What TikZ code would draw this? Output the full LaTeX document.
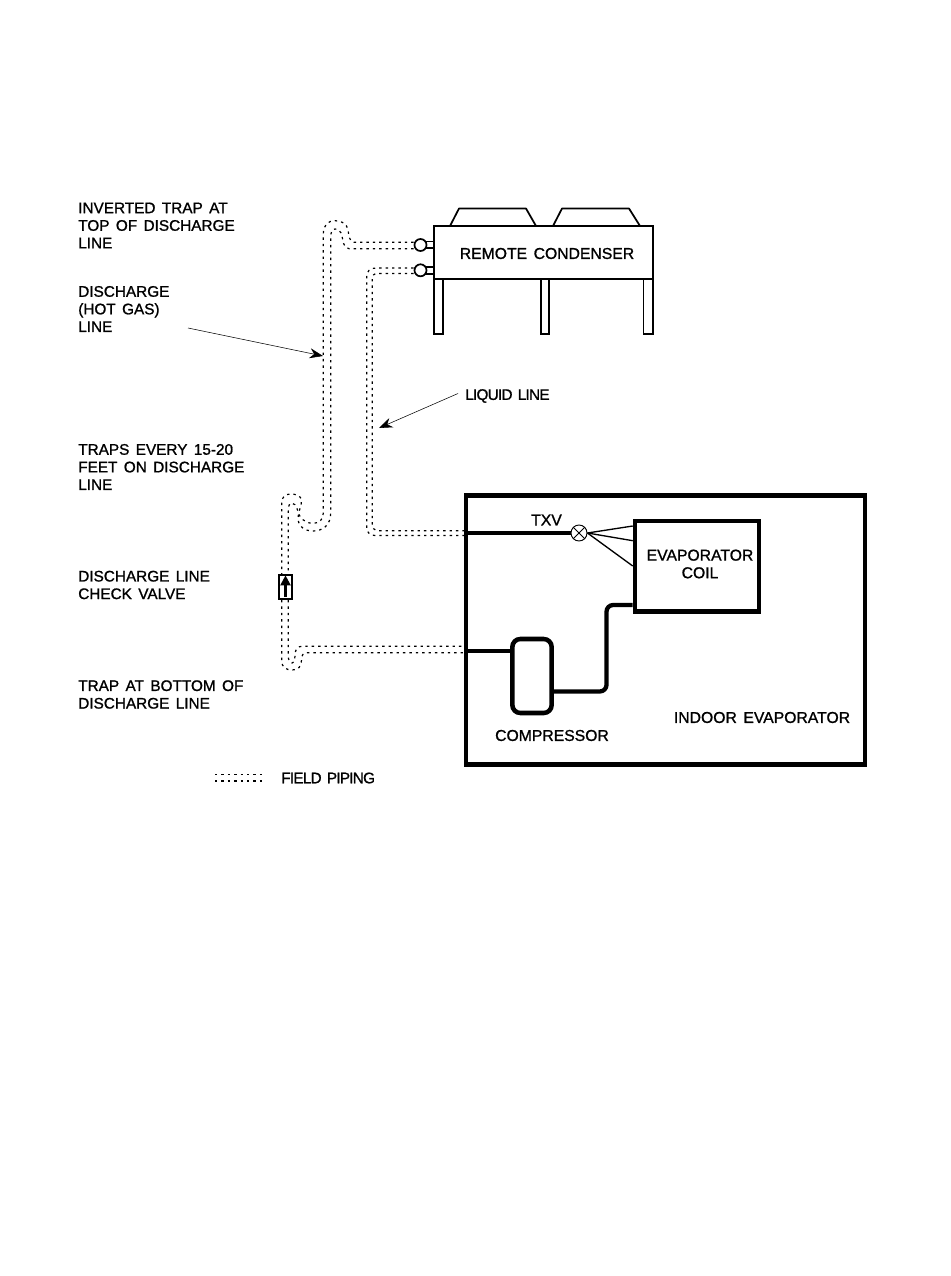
\documentclass[tikz,border=0pt]{standalone}
\usepackage{fontspec}
\usetikzlibrary{arrows.meta,positioning}
\setmainfont[FakeBold=1.1,WordSpace=1.5]{Liberation Sans}
\begin{document}
\begin{tikzpicture}[
    x=0.75pt,y=-0.75pt,
    label/.style={inner sep=0pt,align=left,anchor=west,font=\fontsize{11.5}{13.2}\selectfont,text=black},
    tag/.style={inner sep=0pt,align=center,font=\fontsize{11.8}{13.2}\selectfont,text=black},
    squeezed/.style={font=\fontsize{11.5}{13.2}\selectfont\addfontfeature{LetterSpace=-5}},
    unit/.style={rectangle,draw=black,line width=3.4pt,inner sep=0pt},
    thin box/.style={draw=black,line width=1.3pt},
    port/.style={circle,draw=black,line width=1.3pt,fill=white,minimum size=9pt,inner sep=0pt},
    field/.style={draw=black,line width=0.9pt,dash pattern=on 1.8pt off 3pt},
    tube/.style={draw=black,line width=3.2pt,rounded corners=5pt},
    feeder/.style={draw=black,line width=1pt},
    arrow/.style={-{Stealth[length=10pt,width=7.5pt]},draw=black,line width=0.4pt}
  ]
    \useasboundingbox (0,0) rectangle (950,1276);
    \fill[white] (0,0) rectangle (950,1276);

    % condenser
    \draw[thin box,line join=round] (450,226) -- (459,208.5) -- (526,208.5) -- (536,226);
    \draw[thin box,line join=round] (553,226) -- (562,208.5) -- (629,208.5) -- (640,226);
    \draw[thin box] (434,279) rectangle (442.7,334);
    \draw[thin box] (541,279) rectangle (549.3,334);
    \draw[thin box] (643.5,279) rectangle (652.7,334);
    \node[thin box,fill=white,minimum width=164pt,minimum height=39.75pt,inner sep=0pt] (condenser) at (543.3,252.5) {};
    \node[tag] (condtext) at (547,253.5) {REMOTE CONDENSER};
    \draw[thin box,line width=0.9pt] (424,241.7) -- (434,241.7) (424,248) -- (434,248);
    \draw[thin box,line width=0.9pt] (424,267) -- (434,267) (424,274) -- (434,274);
    \node[port] (hotport) at (420.5,245) {};
    \node[port] (liqport) at (420.5,270.3) {};

    % indoor section
    \node[unit,minimum width=299.5pt,minimum height=202pt] (indoor) at (665.5,630) {};
    \node[unit,minimum width=93pt,minimum height=68pt] (coil) at (697,566.3) {};
    \node[tag] (coiltext) at (700,564) {EVAPORATOR\\COIL};
    \node[unit,rounded corners=6pt,minimum width=29.5pt,minimum height=55.5pt] (compressor) at (532,676) {};
    \node[circle,draw=black,line width=0.7pt,minimum size=12pt,inner sep=0pt] (txv) at (579,533) {};
    \draw[feeder,line width=0.7pt] (txv.north west) -- (txv.south east) (txv.north east) -- (txv.south west);
    \coordinate (hpin) at (465.7,651);
    \coordinate (lqin) at (465.7,533);
    \draw[tube] (lqin) -- (txv.west);
    \draw[tube] (hpin) -- (compressor.west |- hpin);
    \draw[tube] (compressor.east |- 0,691.5) -| (606.5,605) -- (coil.west |- 0,605);
    \draw[feeder] (txv.east) -- (coil.west |- 0,526);
    \draw[feeder] (txv.east) -- (coil.west |- 0,540.7);
    \draw[feeder] (txv.east) -- (coil.west |- 0,566);

    % field piping, hot gas
    \draw[field] (hotport.west |- 0,242.3) -- (354,242.3) .. controls (349,242) and (349,235) .. (348,230)
      .. controls (347,224) and (342,220.7) .. (335,220.7) .. controls (328,220.7) and (323.3,225) .. (323.3,234)
      -- (323.3,513) .. controls (323.3,520) and (319,523.3) .. (313,523.3) .. controls (305,523.3) and (299,518) .. (297.5,510)
      .. controls (296,505) and (294,503) .. (291.5,503) .. controls (289,503) and (288.3,507) .. (288.3,512) -- (288.3,574);
    \draw[field] (hotport.west |- 0,248.7) -- (349,248.7) .. controls (343,248) and (343,240) .. (342,236)
      .. controls (341,231) and (338,229) .. (335,229) .. controls (332,229) and (330.7,232) .. (330.7,238)
      -- (330.7,513) .. controls (330.7,525) and (323,531) .. (313,531) .. controls (304,531) and (298,526) .. (298,518)
      .. controls (298,512) and (302,505) .. (301.5,500) .. controls (301,496) and (296,494) .. (291,494)
      .. controls (285,494) and (281.7,497) .. (281.7,503) -- (281.7,574);
    \draw[field] (288.3,600) -- (288.3,656) .. controls (288.3,660) and (290,663) .. (292,663)
      .. controls (295,663) and (295,657) .. (295,653) .. controls (296,649) and (298,646.3) .. (302,646.3) -- (hpin |- 0,646.3);
    \draw[field] (281.7,600) -- (281.7,661) .. controls (281.7,667) and (286,670) .. (292,670)
      .. controls (298,670) and (301.5,667) .. (301.5,660) .. controls (301.5,655) and (303,652.7) .. (308,652.7) -- (hpin |- 0,652.7);
    \node[thin box,line width=1.5pt,fill=white,minimum width=9.5pt,minimum height=18pt,inner sep=0pt] (valve) at (285.5,587) {};
    \draw[-{Triangle[length=7.5pt,width=7.5pt]},draw=black,line width=1.6pt] (valve.south) ++(0,2.5pt) -- ([yshift=-1pt]valve.north);

    % field piping, liquid
    \draw[field] (liqport.west |- 0,268) -- (376,268) .. controls (370,268) and (366.7,271) .. (366.7,277)
      -- (366.7,528) .. controls (366.7,532) and (370,535.5) .. (375,535.5) -- (lqin |- 0,535.5);
    \draw[field] (liqport.west |- 0,273.5) -- (378,273.5) .. controls (374,273.5) and (372.3,275) .. (372.3,279)
      -- (372.3,524) .. controls (372.3,528) and (374,530.7) .. (379,530.7) -- (lqin |- 0,530.7);

    % labels
    \node[label] (invtrap) at (78,225.5) {INVERTED TRAP AT\\TOP OF DISCHARGE\\LINE};
    \node[label] (hotgas) at (78,309) {DISCHARGE\\(HOT GAS)\\LINE};
    \node[label] (traps) at (78,467) {TRAPS EVERY 15-20\\FEET ON DISCHARGE\\LINE};
    \node[label] (checkv) at (78,585) {DISCHARGE LINE\\CHECK VALVE};
    \node[label] (botrap) at (78,694.5) {TRAP AT BOTTOM OF\\DISCHARGE LINE};
    \node[label,squeezed] (liquid) at (465,396) {LIQUID LINE};
    \node[tag] (txvtext) at (546.5,520) {TXV};
    \node[tag] (comptext) at (552,735.5) {COMPRESSOR};
    \node[tag] (indoortext) at (762,717.5) {INDOOR EVAPORATOR};
    \node[label,squeezed] (fieldtext) at (281,778) {FIELD PIPING};

    % leaders
    \coordinate (hotend) at (323,356);
    \coordinate (liqend) at (379,428);
    \coordinate (hotstart) at (188,328);
    \coordinate (liqstart) at (458,393.5);
    \draw[arrow] (hotstart) -- (hotend);
    \draw[arrow] (liqstart) -- (liqend);

    % legend
    \coordinate (legtop) at (215,774.5);
    \coordinate (legbot) at (215,781);
    \draw[field] (legtop) -- ++(49,0);
    \draw[field] (legbot) -- ++(49,0);
  \end{tikzpicture}
\end{document}
